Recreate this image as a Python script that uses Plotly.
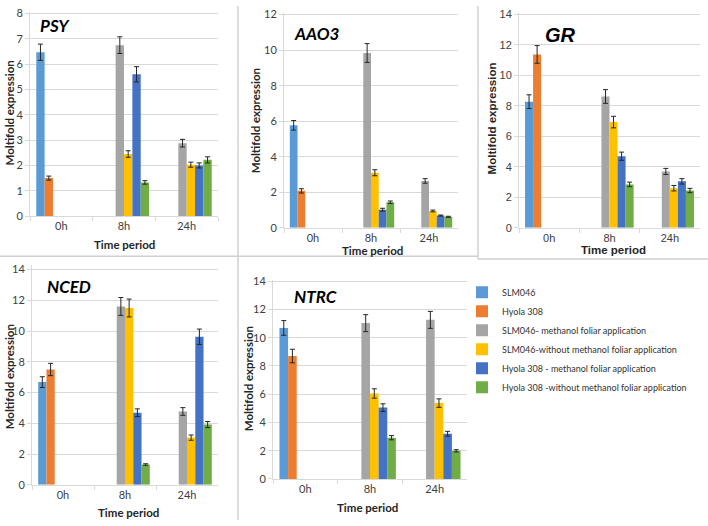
import plotly.graph_objects as go

TIMES = ["0h", "8h", "24h"]
SERIES = ["SLM046", "Hyola 308", "SLM046- methanol foliar application",
          "SLM046-without methanol foliar application",
          "Hyola 308 - methanol foliar application",
          "Hyola 308 -without methanol foliar application"]
COLORS = ["#5B9BD5", "#ED7D31", "#A5A5A5", "#FFC000", "#4472C4", "#70AD47"]
GENES = ["PSY", "AAO3", "GR", "NCED", "NTRC"]

# values per series (rows) across TIMES (columns)
PSY_VAL = [[6.47, None, None], [1.50, None, None], [None, 6.75, 2.88],
           [None, 2.45, 2.03], [None, 5.60, 2.00], [None, 1.33, 2.22]]
PSY_ERR = [[0.32, None, None], [0.08, None, None], [None, 0.33, 0.15],
           [None, 0.13, 0.10], [None, 0.30, 0.10], [None, 0.07, 0.12]]
AAO3_VAL = [[5.77, None, None], [2.08, None, None], [None, 9.84, 2.64],
            [None, 3.10, 0.95], [None, 1.02, 0.69], [None, 1.44, 0.62]]
AAO3_ERR = [[0.27, None, None], [0.12, None, None], [None, 0.53, 0.13],
            [None, 0.17, 0.05], [None, 0.08, 0.03], [None, 0.07, 0.03]]
GR_VAL = [[8.28, None, None], [11.38, None, None], [None, 8.62, 3.70],
          [None, 6.94, 2.60], [None, 4.70, 3.05], [None, 2.85, 2.45]]
GR_ERR = [[0.45, None, None], [0.58, None, None], [None, 0.45, 0.20],
          [None, 0.38, 0.18], [None, 0.27, 0.18], [None, 0.15, 0.14]]
NCED_VAL = [[6.68, None, None], [7.50, None, None], [None, 11.60, 4.77],
            [None, 11.50, 3.07], [None, 4.69, 9.63], [None, 1.32, 3.92]]
NCED_ERR = [[0.35, None, None], [0.40, None, None], [None, 0.58, 0.25],
            [None, 0.58, 0.17], [None, 0.25, 0.50], [None, 0.05, 0.20]]
NTRC_VAL = [[10.69, None, None], [8.70, None, None], [None, 11.03, 11.26],
            [None, 6.05, 5.37], [None, 5.05, 3.20], [None, 2.92, 1.99]]
NTRC_ERR = [[0.52, None, None], [0.48, None, None], [None, 0.60, 0.60],
            [None, 0.33, 0.30], [None, 0.27, 0.17], [None, 0.15, 0.08]]

VALUES = [PSY_VAL, AAO3_VAL, GR_VAL, NCED_VAL, NTRC_VAL]
ERRORS = [PSY_ERR, AAO3_ERR, GR_ERR, NCED_ERR, NTRC_ERR]
YTICKS = [[0, 1, 2, 3, 4, 5, 6, 7, 8],
          [0, 2, 4, 6, 8, 10, 12],
          [0, 2, 4, 6, 8, 10, 12, 14],
          [0, 2, 4, 6, 8, 10, 12, 14],
          [0, 2, 4, 6, 8, 10, 12, 14]]
YTOP = [8.064, 12.1, 14.11, 14.3, 14.11]

W, H = 708, 526
# plot-area pixel boxes (left, right, top, bottom)
BOXES = [(30, 218, 6, 215), (284, 458, 7, 227), (519, 700, 7, 227),
         (32, 218, 265, 490), (273, 467, 280, 484)]
FONTS = ["Lato", "Lato", "Liberation Sans", "Lato", "Lato"]
GENE_POS = [(38, 20, 17), (292, 28, 17), (543, 30, 20), (45, 287, 17), (292, 297, 17)]
YT_POS = [(9, 110), (255, 118), (492, 115), (9, 380), (248, 382)]
XT_POS = [(124, 244), (372, 250), (613, 250), (128, 518), (367, 513)]

fig = go.Figure()
layout = {}
annotations = []
for g, gene in enumerate(GENES):
    sfx = "" if g == 0 else str(g + 1)
    for s, name in enumerate(SERIES):
        fig.add_trace(go.Bar(
            x=TIMES, y=VALUES[g][s], name=name, marker_color=COLORS[s],
            marker_line_width=0,
            error_y=dict(type="data", array=ERRORS[g][s], color="#262626",
                         thickness=1, width=2.5),
            xaxis="x" + sfx, yaxis="y" + sfx,
            showlegend=(g == 0)))
    l, r, t, b = BOXES[g]
    font = FONTS[g]
    layout["xaxis" + sfx] = dict(
        domain=[l / W, r / W], anchor="y" + sfx, type="category",
        showline=True, linecolor="#D9D9D9", linewidth=1,
        ticks="outside", tickson="boundaries", ticklen=4, tickcolor="#D9D9D9",
        tickfont=dict(family=font, size=11, color="#404040"),
        showgrid=False, fixedrange=True)
    layout["yaxis" + sfx] = dict(
        domain=[1 - b / H, 1 - t / H], anchor="x" + sfx,
        range=[0, YTOP[g]], tickmode="array", tickvals=YTICKS[g],
        ticktext=[str(v) for v in YTICKS[g]],
        showline=True, linecolor="#D9D9D9", linewidth=1,
        ticks="outside", ticklen=4, tickcolor="#D9D9D9",
        gridcolor="#D9D9D9", gridwidth=1, zeroline=False,
        ticklabeloverflow="allow",
        tickfont=dict(family=font, size=11, color="#404040"))
    gx, gy, gs = GENE_POS[g]
    annotations.append(dict(text="<b><i>%s</i></b>" % gene, x=gx / W, y=1 - gy / H,
                            xref="paper", yref="paper", xanchor="left", yanchor="middle",
                            showarrow=False, font=dict(family=font, size=gs, color="#000")))
    yx, yy = YT_POS[g]
    annotations.append(dict(text="<b>Moltifold expression</b>", x=yx / W, y=1 - yy / H,
                            xref="paper", yref="paper", xanchor="center", yanchor="middle",
                            textangle=-90, showarrow=False,
                            font=dict(family=font, size=11.5, color="#262626")))
    xx, xy = XT_POS[g]
    annotations.append(dict(text="<b>Time period</b>", x=xx / W, y=1 - xy / H,
                            xref="paper", yref="paper", xanchor="center", yanchor="middle",
                            showarrow=False,
                            font=dict(family=font, size=11.5, color="#262626")))

shapes = []
def line(x0, y0, x1, y1):
    shapes.append(dict(type="line", xref="paper", yref="paper",
                       x0=x0 / W, y0=1 - y0 / H, x1=x1 / W, y1=1 - y1 / H,
                       line=dict(color="#D0D0D0", width=1.5)))
line(238, 0, 238, 526)
line(0, 256, 478, 256)
line(478, 0, 478, 259)
line(478, 259, 708, 259)

fig.update_layout(
    width=W, height=H, margin=dict(l=0, r=0, t=0, b=0),
    paper_bgcolor="white", plot_bgcolor="white",
    barmode="group", bargap=0.2, bargroupgap=0,
    showlegend=True,
    legend=dict(x=462 / W, y=1 - 278 / H, xanchor="left", yanchor="top",
                font=dict(family="Lato", size=9, color="#333333"),
                itemwidth=30, tracegroupgap=0, bgcolor="rgba(0,0,0,0)"),
    annotations=annotations, shapes=shapes, **layout)

fig.write_html("out.html", config={"displayModeBar": False},
               post_script="document.body.style.margin='0px';document.body.style.overflow='hidden';")
